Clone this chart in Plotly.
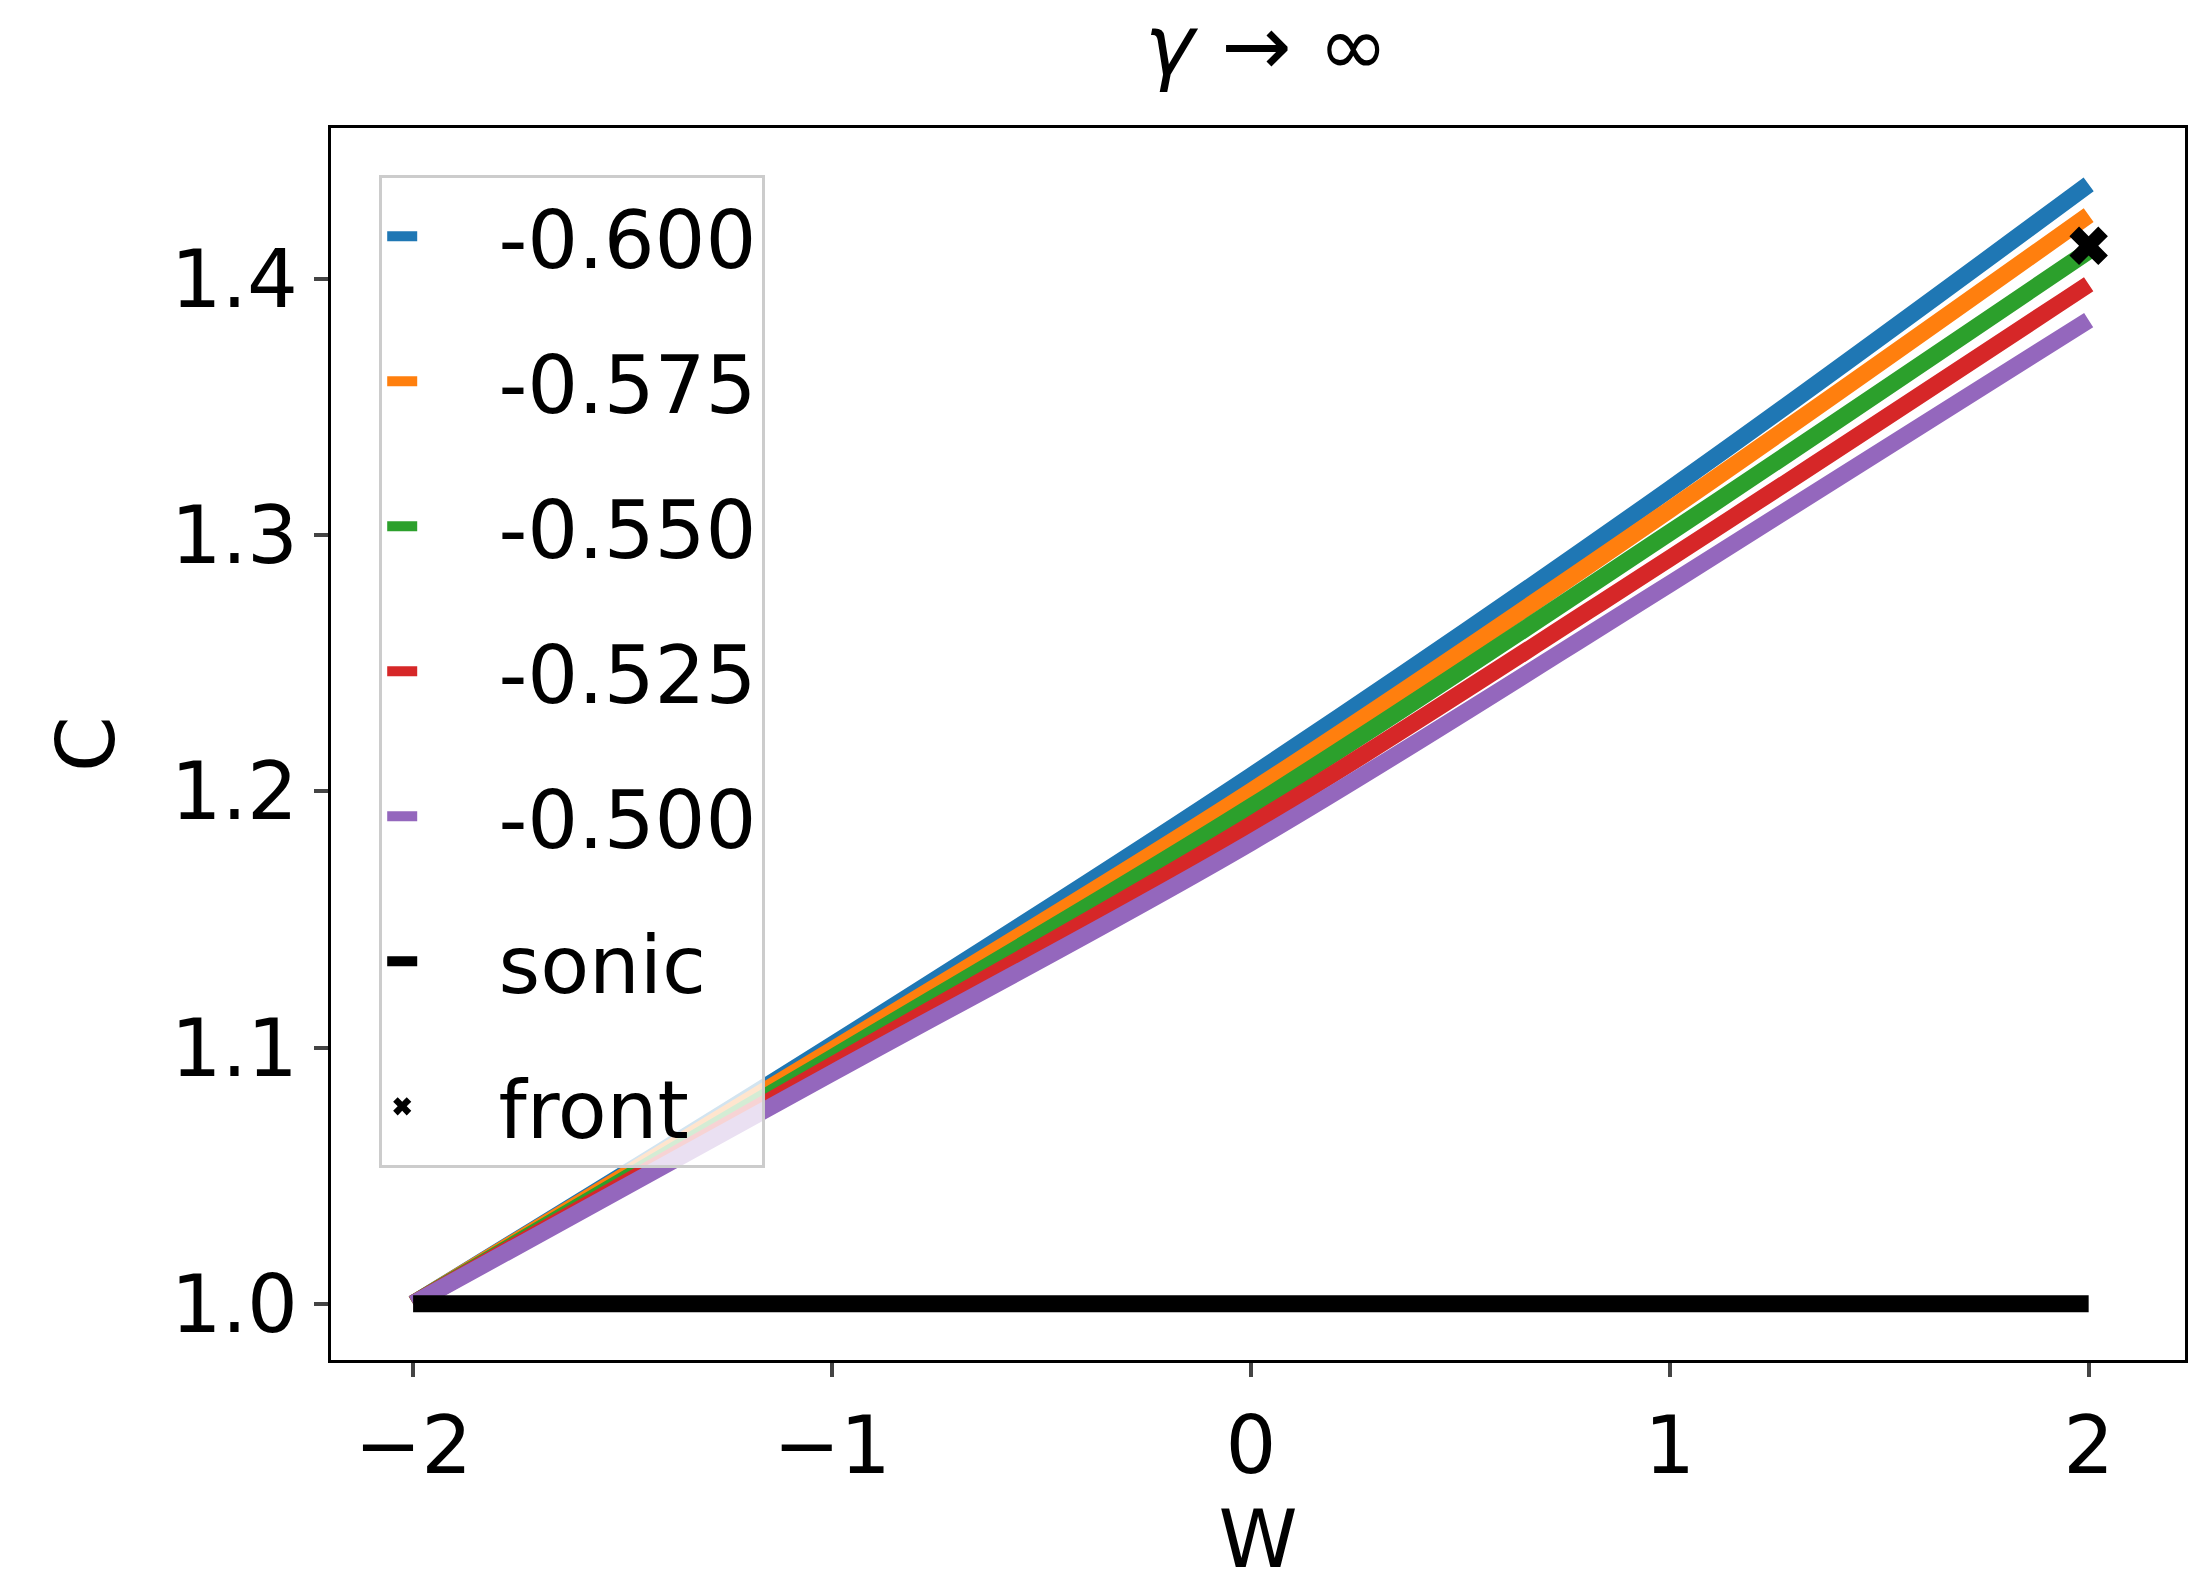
import plotly.graph_objects as go

W = [-2, -1, 0, 1, 2]
labels = ["-0.600", "-0.575", "-0.550", "-0.525", "-0.500"]
colors = ["#1f77b4", "#ff7f0e", "#2ca02c", "#d62728", "#9467bd"]
C_series = [
    [1.0, 1.101, 1.206, 1.318, 1.437],
    [1.0, 1.099, 1.200, 1.310, 1.425],
    [1.0, 1.096, 1.194, 1.301, 1.411],
    [1.0, 1.093, 1.187, 1.291, 1.398],
    [1.0, 1.090, 1.180, 1.281, 1.384],
]
sonic_W = [-2, 2]
sonic_C = [1.0, 1.0]
front_W = [2.0]
front_C = [1.413]

fig = go.Figure()
for i, (lab, col, c) in enumerate(zip(labels, colors, C_series)):
    fig.add_trace(go.Scatter(x=W, y=c, mode="lines", name="   " + lab, legendgroup=f"g{i}",
                             line=dict(color=col, width=17, shape="spline")))
fig.add_trace(go.Scatter(x=sonic_W, y=sonic_C, mode="lines", name="   sonic", legendgroup="g5",
                         line=dict(color="black", width=17)))
fig.add_trace(go.Scatter(x=front_W, y=front_C, mode="markers", name="   front", legendgroup="g6",
                         marker=dict(symbol="x", color="black", size=34)))

ax = dict(showgrid=False, zeroline=False, showline=True, linecolor="black", linewidth=3,
          mirror=True, ticks="outside", ticklen=14, tickwidth=4,
          tickfont=dict(size=80, color="black"))
fig.update_layout(
    width=2208, height=1582, plot_bgcolor="white", paper_bgcolor="white",
    font=dict(family="DejaVu Sans", color="black"),
    margin=dict(l=323, r=31, t=120, b=230),
    title=dict(text="<i>γ</i> → ∞", x=0.57, xanchor="center", y=0.995, yanchor="top",
               font=dict(size=84)),
    xaxis=dict(ax, range=[-2.196, 2.23], tickvals=[-2, -1, 0, 1, 2],
               ticktext=["−2", "−1", "0", "1", "2"],
               title=dict(text="W", font=dict(size=80), standoff=20)),
    yaxis=dict(ax, range=[0.978, 1.459], tickvals=[1.0, 1.1, 1.2, 1.3, 1.4],
               ticktext=["1.0", "1.1", "1.2", "1.3", "1.4"],
               title=dict(text="C", font=dict(size=80), standoff=30)),
    legend=dict(x=0.026, y=0.962, xanchor="left", yanchor="top",
                bgcolor="rgba(255,255,255,0.8)", bordercolor="#cccccc", borderwidth=3,
                font=dict(size=80), tracegroupgap=38),
    showlegend=True,
)
fig.write_html("out.html")
